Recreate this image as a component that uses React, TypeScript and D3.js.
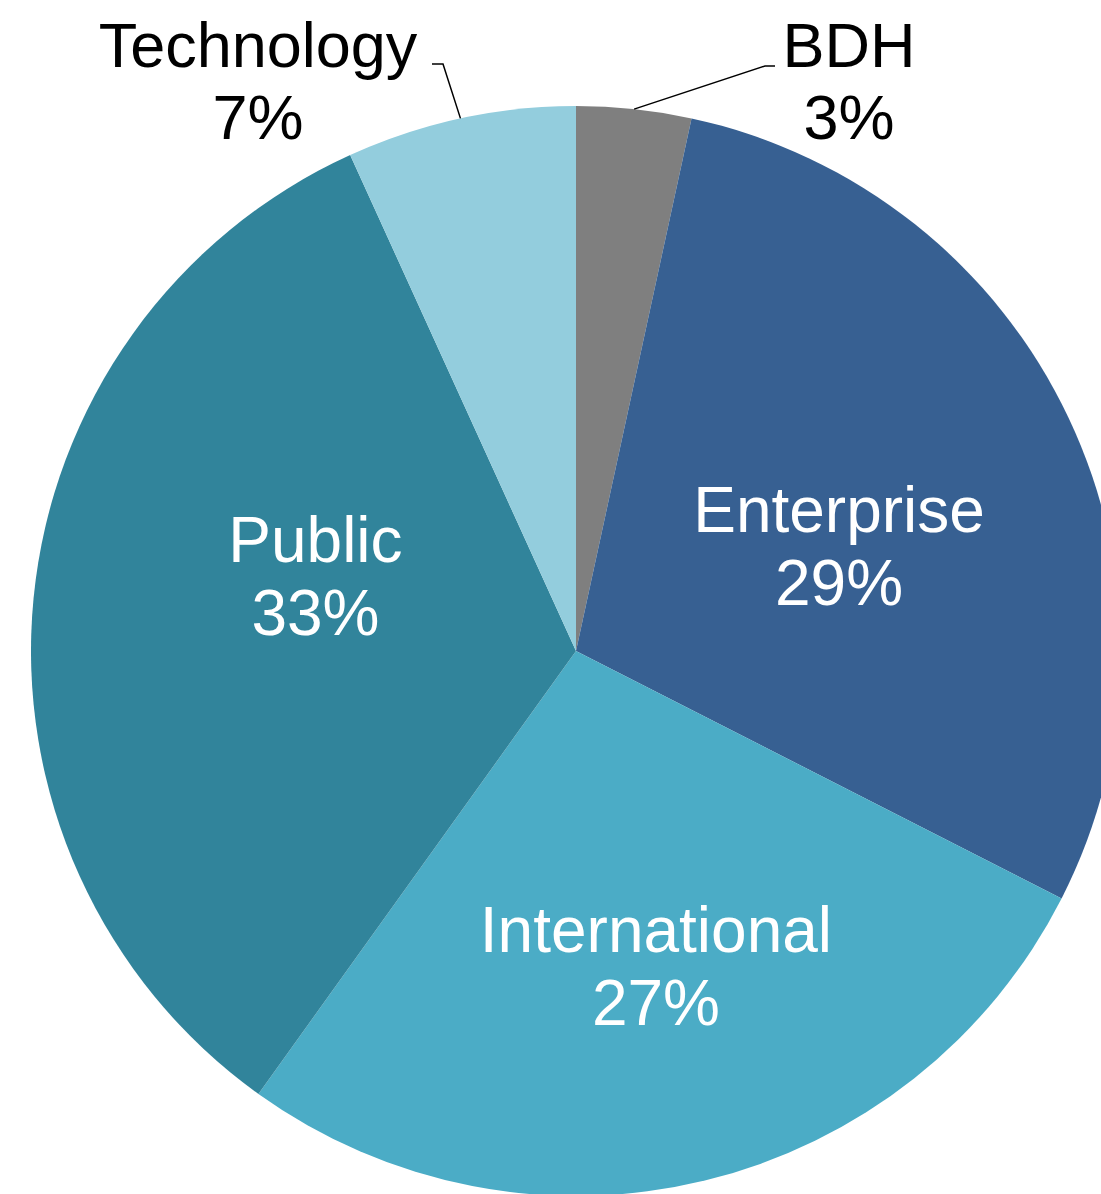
import { useEffect, useRef } from 'react'
import * as d3 from 'd3'

// segment shares, clockwise from 12 o'clock
const segments = ['BDH', 'Enterprise', 'International', 'Public', 'Technology']
const shares = [3.4, 29.1, 27.4, 33.3, 6.8]
const colors = ['#7f7f7f', '#376092', '#4bacc6', '#31849b', '#93cddd']

interface Slice { name: string; value: number; color: string }

const W = 1101
const H = 1194
const FONT = 'Liberation Sans, Arial, Helvetica, sans-serif'

// label layout: inside labels sit near the centroid, outside ones get a leader
const inside: Record<string, [number, number]> = {
  Enterprise: [-8, 26],
  International: [9, 26],
  Public: [38, -44],
}
const outside: Record<string, { elbow: [number, number]; end: number; tx: number }> = {
  Technology: { elbow: [443, 64], end: 432, tx: 258 },
  BDH: { elbow: [765, 66], end: 775, tx: 849 },
}

export default function App() {
  const ref = useRef<SVGSVGElement | null>(null)

  useEffect(() => {
    if (!ref.current) {return}
    const svg = d3.select(ref.current)
    svg.selectAll('*').remove()

    const data: Slice[] = segments.map((s, i) => ({ name: s, value: shares[i], color: colors[i] }))
    const cx = 576
    const cy = 651
    const radius = 545

    const root = svg.append('g').attr('transform', `translate(${cx},${cy})`)

    const pieGen = d3.pie<Slice>().sort(null).value((d) => d.value)
    const arcs = pieGen(data)
    const arc = d3.arc<d3.PieArcDatum<Slice>>().innerRadius(0).outerRadius(radius)
    const labelArc = d3.arc<d3.PieArcDatum<Slice>>().innerRadius(300).outerRadius(300)

    root
      .selectAll('path.slice')
      .data(arcs)
      .join('path')
      .attr('class', 'slice')
      .attr('d', arc)
      .attr('fill', (d) => d.data.color)

    // inside labels
    arcs.filter((d) => inside[d.data.name]).forEach((d) => {
      const [x, y] = labelArc.centroid(d)
      const [dx, dy] = inside[d.data.name]
      const t = root
        .append('text')
        .attr('text-anchor', 'middle')
        .attr('font-family', FONT)
        .attr('font-size', 64)
        .attr('fill', '#ffffff')
      t.append('tspan').attr('x', x + dx).attr('y', y + dy - 16).text(d.data.name)
      t.append('tspan').attr('x', x + dx).attr('y', y + dy + 57).text(`${Math.round(d.data.value)}%`)
    })

    // outside labels with leader lines
    arcs.filter((d) => outside[d.data.name]).forEach((d) => {
      const o = outside[d.data.name]
      const mid = (d.startAngle + d.endAngle) / 2
      const px = cx + Math.sin(mid) * radius
      const py = cy - Math.cos(mid) * radius
      svg
        .append('polyline')
        .attr('points', `${px},${py} ${o.elbow[0]},${o.elbow[1]} ${o.end},${o.elbow[1]}`)
        .attr('fill', 'none')
        .attr('stroke', '#000')
        .attr('stroke-width', 1.5)
      const t = svg
        .append('text')
        .attr('text-anchor', 'middle')
        .attr('font-family', FONT)
        .attr('font-size', 63)
        .attr('fill', '#000')
      t.append('tspan').attr('x', o.tx).attr('y', 67).text(d.data.name)
      t.append('tspan').attr('x', o.tx).attr('y', 139).text(`${Math.round(d.data.value)}%`)
    })
  }, [])

  return (
    <svg
      ref={ref}
      width={W}
      height={H}
      role="img"
      aria-label="Pie chart"
      style={{ position: 'absolute', left: 0, top: 0, background: '#fff' }}
    />
  )
}
